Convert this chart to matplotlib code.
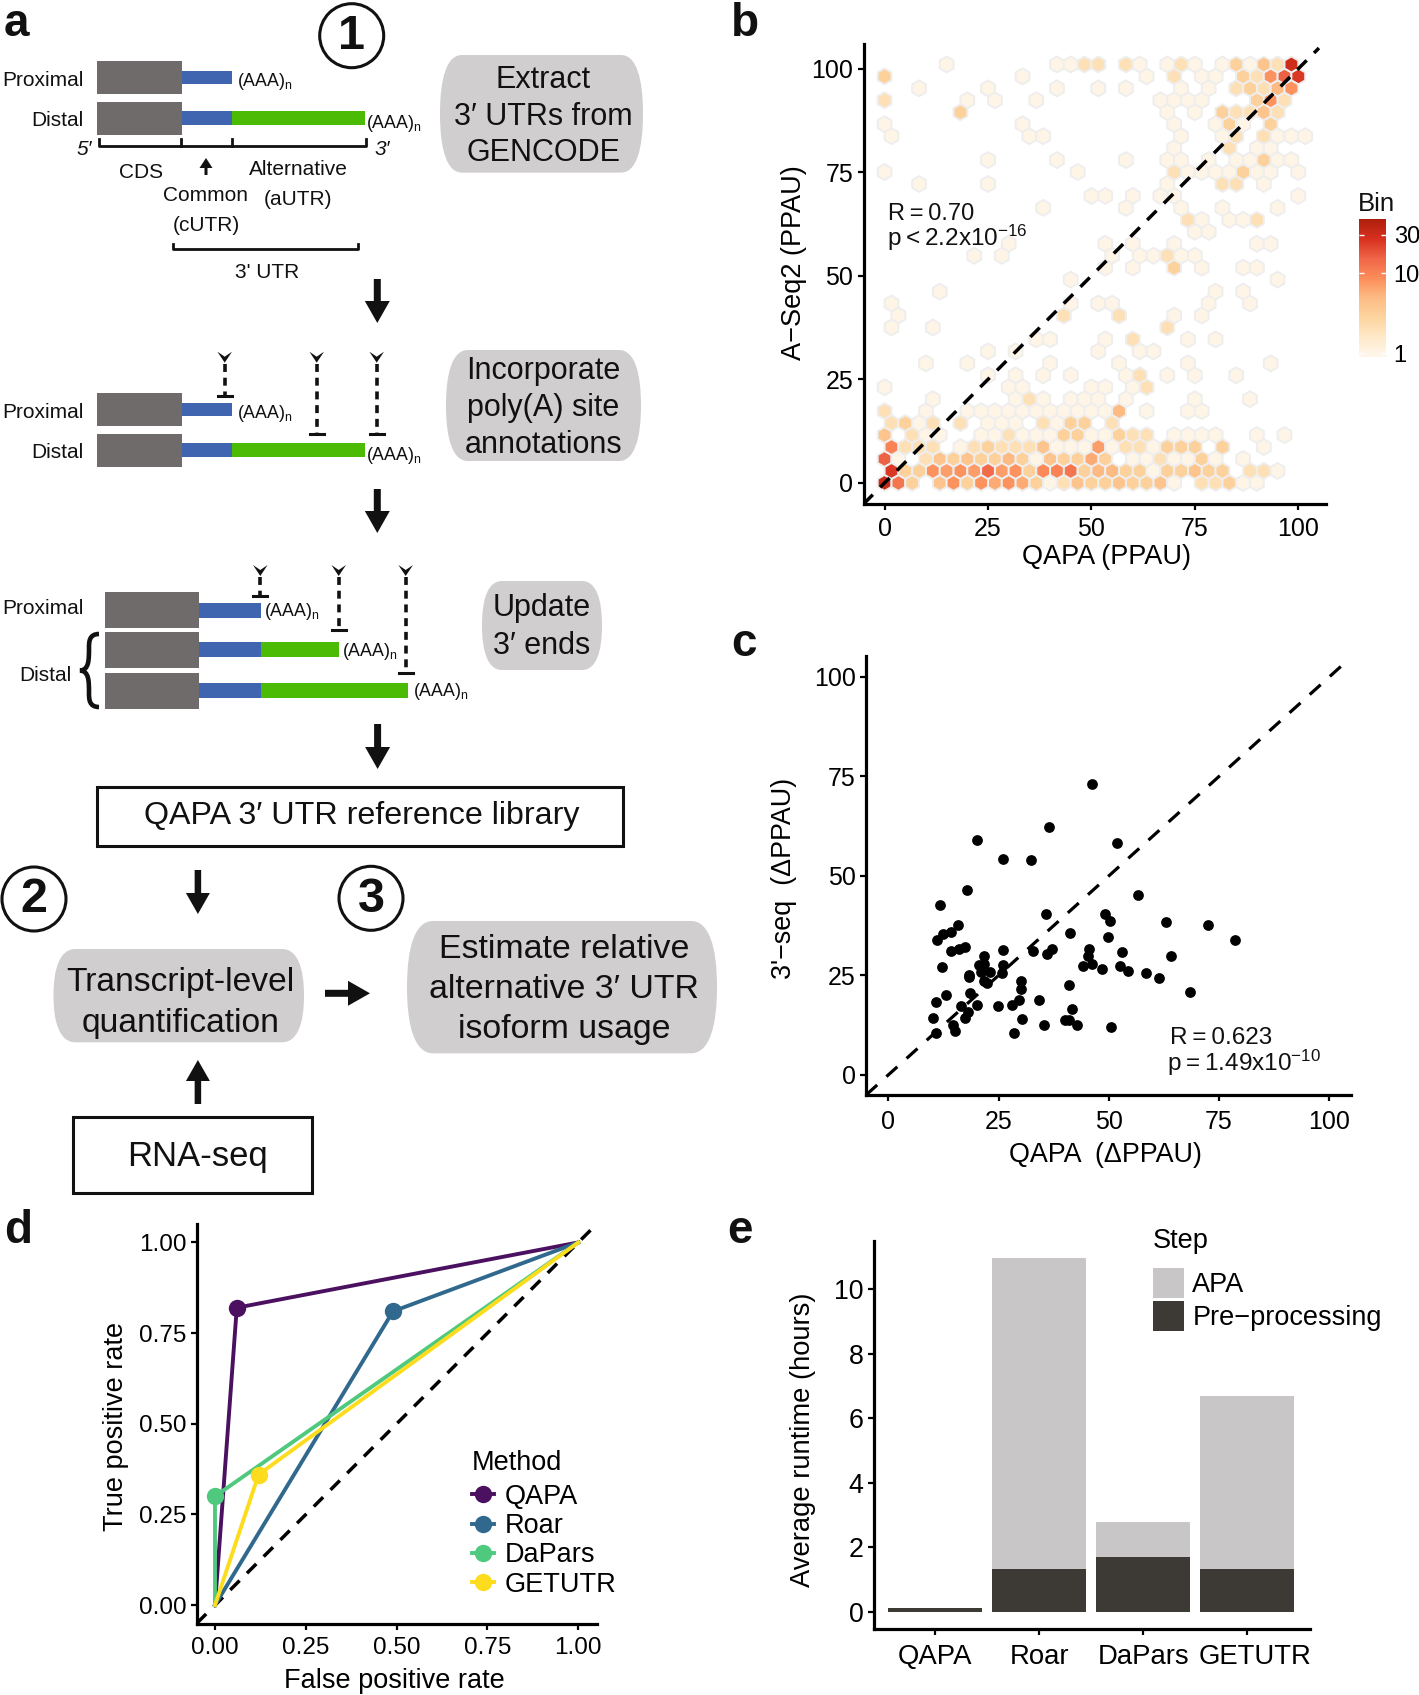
import numpy as np
import matplotlib
matplotlib.use("Agg")
import matplotlib.pyplot as plt
from matplotlib.colors import LinearSegmentedColormap, LogNorm
from matplotlib.lines import Line2D
from matplotlib.patches import Circle, FancyArrow, PathPatch, Patch, Polygon, Rectangle
from matplotlib.path import Path
from matplotlib.transforms import ScaledTranslation

plt.rcParams['font.family'] = ['Liberation Sans', 'DejaVu Sans']
plt.rcParams['mathtext.fontset'] = 'custom'
plt.rcParams['mathtext.rm'] = 'Liberation Sans'
plt.rcParams['mathtext.it'] = 'Liberation Sans:italic'
plt.rcParams['mathtext.bf'] = 'Liberation Sans:bold'
plt.rcParams['mathtext.default'] = 'regular'

W, H = 1419, 1695

# panel b: hex cells, one list per row of the hexagon grid (column index, count)
hex_col = [
    [0, 1, 2, 4, 5, 6, 7, 8, 9, 10, 11, 12, 13, 14, 15, 16, 17, 18, 19, 20, 21, 23, 24, 25, 26, 27],
    [0, 1, 2, 3, 4, 5, 6, 7, 8, 9, 10, 11, 12, 13, 14, 15, 16, 17, 18, 19, 20, 21, 22, 23, 24, 26, 27, 28],
    [0, 1, 3, 4, 5, 6, 7, 8, 9, 10, 11, 12, 13, 14, 15, 16, 18, 19, 20, 21, 22, 23, 24, 26],
    [0, 1, 2, 3, 5, 6, 7, 8, 9, 10, 11, 12, 13, 14, 15, 16, 17, 18, 19, 20, 21, 22, 24, 27],
    [0, 2, 3, 4, 7, 8, 9, 10, 11, 12, 13, 14, 15, 16, 17, 18, 19, 21, 22, 23, 24, 27, 29],
    [0, 1, 2, 3, 5, 7, 8, 9, 11, 12, 13, 14, 16],
    [0, 3, 6, 7, 8, 9, 10, 11, 12, 13, 14, 15, 16, 17, 19, 22, 23],
    [3, 9, 10, 11, 13, 14, 15, 17, 22, 26],
    [0, 9, 10, 15, 16, 18, 19],
    [7, 9, 11, 13, 17, 18, 20, 22, 25],
    [3, 6, 12, 17, 22, 28],
    [7, 9, 15, 18, 19],
    [11, 12, 16, 18, 22, 24],
    [0, 3, 20],
    [1, 13, 17, 21, 23],
    [0, 13, 15, 16, 23, 26],
    [4, 24, 26],
    [13, 28],
    [16, 18, 21, 23, 26, 27],
    [6, 8, 16, 18, 19, 20, 21, 22],
    [9, 16, 18, 21, 27, 28],
    [22, 23],
    [22, 23, 25, 26, 27],
    [11, 17, 21, 24, 28],
    [15, 16, 18, 20, 21, 30],
    [2, 7, 20, 24, 25, 27],
    [0, 14, 21, 22, 23, 24, 25, 26, 27, 28, 30],
    [7, 12, 17, 20, 21, 23, 25, 26, 27, 28, 29],
    [21, 25, 27, 28],
    [0, 10, 11, 21, 24, 25, 27, 28, 29, 30],
    [0, 10, 21, 24, 25, 26, 28],
    [5, 20, 22, 24, 25, 26, 27, 28],
    [0, 6, 8, 11, 20, 21, 22, 23, 27, 28, 29],
    [2, 7, 12, 15, 17, 21, 23, 25, 26, 27, 28, 29],
    [0, 10, 19, 21, 23, 24, 26, 27, 28, 29, 30],
    [4, 12, 13, 14, 15, 17, 18, 20, 21, 22, 24, 25, 26, 27, 28, 29],
]
hex_n = [
    [32, 12, 3, 4, 8, 3, 8, 6, 8, 6, 3, 1, 2, 4, 3, 3, 4, 3, 3, 4, 1, 2, 2, 3, 1, 1],
    [25, 3, 3, 8, 7, 8, 7, 14, 7, 8, 3, 9, 10, 12, 3, 5, 5, 3, 3, 1, 3, 3, 4, 3, 3, 2, 2, 1],
    [16, 1, 2, 4, 3, 4, 3, 3, 5, 3, 1, 4, 3, 3, 6, 3, 1, 1, 2, 1, 1, 3, 1, 1],
    [10, 2, 2, 2, 1, 2, 3, 2, 2, 2, 4, 1, 1, 1, 7, 1, 2, 2, 1, 3, 3, 3, 3, 1],
    [4, 2, 1, 1, 1, 1, 2, 1, 1, 1, 3, 3, 1, 1, 3, 2, 2, 1, 1, 1, 1, 1, 1],
    [2, 3, 1, 2, 2, 1, 1, 1, 2, 1, 3, 3, 2],
    [2, 1, 1, 1, 1, 1, 1, 1, 1, 1, 1, 1, 1, 5, 1, 1, 1],
    [1, 1, 2, 1, 1, 1, 1, 1, 1, 1],
    [1, 1, 1, 1, 1, 1, 2],
    [1, 1, 1, 1, 1, 2, 1, 1, 1],
    [1, 1, 1, 1, 1, 1],
    [1, 1, 1, 1, 1],
    [1, 1, 1, 2, 1, 1],
    [1, 1, 2],
    [1, 2, 2, 1, 1],
    [1, 1, 1, 1, 1, 1],
    [1, 1, 1],
    [1, 1],
    [1, 1, 3, 1, 1, 1],
    [1, 1, 1, 1, 1, 2, 1, 1],
    [1, 1, 1, 1, 1, 1],
    [1, 1],
    [2, 1, 1, 1, 2],
    [1, 1, 1, 1, 1],
    [1, 1, 1, 1, 1, 1],
    [1, 1, 1, 2, 2, 1],
    [1, 1, 2, 1, 1, 1, 1, 3, 1, 1, 1],
    [1, 1, 1, 1, 1, 1, 1, 1, 3, 1, 1],
    [1, 2, 1, 1],
    [1, 1, 1, 1, 1, 2, 2, 1, 1, 1],
    [1, 1, 1, 1, 3, 1, 3],
    [3, 1, 1, 3, 2, 2, 4, 2],
    [2, 1, 1, 1, 1, 1, 1, 1, 3, 8, 2],
    [1, 1, 1, 1, 1, 1, 1, 2, 3, 2, 5, 8],
    [3, 1, 1, 2, 1, 1, 3, 2, 8, 16, 25],
    [1, 1, 1, 2, 2, 2, 1, 1, 2, 1, 1, 3, 1, 4, 2, 30],
]
bin_ticks = [1, 10, 30]

# panel c
c_x = [46.2, 36.5, 20.1, 51.9, 26.0, 32.3, 17.8, 56.5, 11.7, 35.8, 49.1, 50.3, 63.0, 72.5, 15.9, 14.1,
       12.5, 11.0, 41.1, 49.7, 78.5, 17.4, 16.1, 14.3, 26.0, 37.1, 35.9, 32.8, 45.4, 53.0, 45.2, 64.2,
       21.7, 20.6, 21.7, 12.2, 26.0, 44.1, 46.2, 52.6, 48.5, 54.3, 58.5, 61.3, 21.0, 23.1, 25.7, 18.3,
       18.2, 21.7, 22.4, 30.1, 30.0, 40.9, 68.4, 18.5, 13.1, 10.8, 29.7, 34.1, 16.4, 20.1, 24.9, 28.0,
       18.1, 17.4, 10.2, 30.2, 41.7, 40.1, 41.0, 42.7, 35.3, 50.5, 14.7, 15.2, 28.6, 10.8]
c_y = [73.1, 62.3, 58.9, 58.2, 54.3, 54.0, 46.5, 45.3, 42.6, 40.3, 40.3, 38.7, 38.4, 37.7, 37.7, 35.8,
       35.3, 33.8, 35.7, 34.7, 34.0, 32.1, 31.6, 31.1, 31.3, 31.5, 30.4, 31.0, 31.7, 30.8, 29.8, 29.8,
       29.8, 27.7, 27.9, 27.2, 27.7, 27.3, 27.9, 27.4, 26.6, 26.0, 25.7, 24.4, 25.8, 25.8, 25.7, 25.1,
       24.5, 23.6, 23.2, 23.6, 21.6, 22.5, 20.8, 20.5, 20.1, 18.3, 18.9, 18.7, 17.4, 17.6, 17.4, 17.5,
       15.7, 14.4, 14.4, 14.1, 16.6, 13.9, 13.9, 12.5, 12.5, 12.1, 12.6, 11.1, 10.6, 10.4]

# panel d
methods = ['QAPA', 'Roar', 'DaPars', 'GETUTR']
method_colors = ['#4b1160', '#31688e', '#4fc97d', '#fddc1e']
roc_fpr = [0.06, 0.49, 0.0, 0.12]
roc_tpr = [0.82, 0.81, 0.30, 0.36]

# panel e
tools = ['QAPA', 'Roar', 'DaPars', 'GETUTR']
preprocessing = [0.12, 1.33, 1.70, 1.33]
apa = [0.01, 9.63, 1.09, 5.37]


def px_axes(left, top, right, bottom):
    return fig.add_axes([left / W, 1 - bottom / H, (right - left) / W, (bottom - top) / H])


def style_axes(ax, xlim, ylim, size, xpad=3):
    ax.set_xlim(xlim)
    ax.set_ylim(ylim)
    ax.spines['top'].set_visible(False)
    ax.spines['right'].set_visible(False)
    ax.spines['left'].set_linewidth(2.3)
    ax.spines['bottom'].set_linewidth(2.3)
    ax.tick_params(length=4.5, width=1.6, labelsize=size, pad=3)
    ax.tick_params(axis='x', pad=xpad)
    ax.patch.set_alpha(0)


def set_labels(ax, xlabel, xpos, ylabel, ypos, size):
    ax.set_xlabel(xlabel, fontsize=size, va='center')
    ax.set_ylabel(ylabel, fontsize=size, va='center')
    ax.xaxis.set_label_coords(xpos[0], xpos[1], transform=over.transData)
    ax.yaxis.set_label_coords(ypos[0], ypos[1], transform=over.transData)


def label(x, y, text, size=15, ha='center', **kw):
    # the reference text sits a little lower than matplotlib's centre
    over.text(x, y + size * 0.12, text, fontsize=size, ha=ha, va='center', color='#111111', **kw)


def transcript(y0, y1, x0, x1, by0, by1, bend, gend=None):
    over.add_patch(Rectangle((x0, y0), x1 - x0, y1 - y0, fc='#6f6b6b', ec='none'))
    over.add_patch(Rectangle((x1, by0), bend - x1, by1 - by0, fc='#3f64b0', ec='none'))
    if gend is not None:
        over.add_patch(Rectangle((bend, by0), gend - bend, by1 - by0, fc='#4cbb06', ec='none'))


def polya(x, y):
    over.text(x, y, '(AAA)$_{n}$', fontsize=12.8, ha='left', va='center', color='#111111')


def site(x, top, bar):
    over.add_patch(Polygon([(x - 7.3, top), (x, top + 5), (x + 7.3, top), (x, top + 11)], fc='#111111', ec='none'))
    over.plot([x, x], [top + 12, bar], color='#111111', lw=2.6, ls=(0, (2.2, 1.6)))
    over.plot([x - 7, x + 7], [bar, bar], color='#111111', lw=2.2)


def block_arrow(x0, y0, x1, y1, shaft=7, head=25, head_len=22):
    over.add_patch(FancyArrow(x0, y0, x1 - x0, y1 - y0, width=shaft, head_width=head, head_length=head_len,
                              length_includes_head=True, fc='#111111', ec='none'))


def grey_box(x0, y0, x1, y1, rx):
    h = y1 - y0
    mid = (y0 + y1) / 2
    verts = [(x0 + rx, y0), (x1 - rx, y0),
             (x1 - rx * 0.3, y0), (x1, y0 + h * 0.2), (x1, mid),
             (x1, y1 - h * 0.2), (x1 - rx * 0.3, y1), (x1 - rx, y1),
             (x0 + rx, y1),
             (x0 + rx * 0.3, y1), (x0, y1 - h * 0.2), (x0, mid),
             (x0, y0 + h * 0.2), (x0 + rx * 0.3, y0), (x0 + rx, y0)]
    codes = [Path.MOVETO, Path.LINETO] + [Path.CURVE4] * 6 + [Path.LINETO] + [Path.CURVE4] * 6
    over.add_patch(PathPatch(Path(verts, codes), fc='#d0cece', ec='none'))


def step_circle(x, y, text):
    over.add_patch(Circle((x, y), 32, fc='white', ec='#111111', lw=2.2))
    over.text(x, y + 1, text, fontsize=35, fontweight='bold', ha='center', va='center', color='#111111')


fig = plt.figure(figsize=(W / 100, H / 100), dpi=100, facecolor='white')

# overlay in image pixels, used for the schematic and for placing text
over = fig.add_axes([0, 0, 1, 1], zorder=0)
over.set_xlim(0, W)
over.set_ylim(H, 0)
over.axis('off')

for letter, x, y in [('a', 4, 36), ('b', 731, 36), ('c', 731, 656), ('d', 4, 1243), ('e', 727, 1243)]:
    over.text(x, y, letter, fontsize=33, fontweight='bold', ha='left', va='baseline', color='#111111')

# panel a, step 1
step_circle(351.7, 35.7, '1')
transcript(61.3, 94.3, 97, 182, 71.3, 84.3, 232.3)
transcript(102, 135, 97, 182, 111.3, 125, 232.3, 365)
label(83.5, 79, 'Proximal', ha='right')
label(83.5, 119, 'Distal', ha='right')
polya(237, 82)
polya(365.5, 124)
over.plot([99, 99, 365.7, 365.7], [139.3, 146, 146, 139.3], color='#111111', lw=2)
over.plot([181, 181], [139.3, 146], color='#111111', lw=2)
over.plot([232, 232], [139.3, 146], color='#111111', lw=2)
label(91.7, 148, "5\u2032", ha='right', style='italic')
label(375, 148, "3\u2032", ha='left', style='italic')
label(141, 171, 'CDS')
block_arrow(206, 175, 206, 158, shaft=3, head=13, head_len=10)
label(206, 194, 'Common')
label(206, 224, '(cUTR)')
label(298, 168, 'Alternative')
label(298, 198, '(aUTR)')
over.plot([172.7, 172.7, 358, 358], [244, 249, 249, 244], color='#111111', lw=2)
label(267, 271, "3' UTR")

grey_box(440, 55, 643, 172.6, 22)
for text, y in [('Extract', 77.7), ("3\u2032 UTRs from", 114), ('GENCODE', 150)]:
    label(543, y, text, size=22)
block_arrow(377.3, 279, 377.3, 323)

# step 1, annotations
transcript(393.3, 426, 97, 182, 403.3, 416.3, 232.3)
transcript(434, 466.7, 97, 182, 443.3, 456.7, 232.3, 365)
label(83.5, 411, 'Proximal', ha='right')
label(83.5, 451, 'Distal', ha='right')
polya(237, 414)
polya(365.5, 456)
site(224.7, 351.7, 395.7)
site(316.7, 351.7, 433.7)
site(376.7, 351.7, 434.3)
grey_box(446, 350, 641, 461, 22)
for text, y in [('Incorporate', 368), ('poly(A) site', 405), ('annotations', 442)]:
    label(543.5, y, text, size=22)
block_arrow(377.3, 489, 377.3, 533)

# step 1, updated ends
transcript(592, 628.3, 104.7, 199, 603, 618, 260.7)
transcript(632.3, 668.3, 104.7, 199, 642, 657, 260.7, 338.7)
transcript(672.7, 708.7, 104.7, 199, 683, 698, 260.7, 407.7)
label(83.5, 606.7, 'Proximal', ha='right')
label(71.7, 673.3, 'Distal', ha='right')
polya(264.5, 611.5)
polya(342, 652)
polya(413, 692)
site(260.3, 565, 596)
site(338.7, 565, 630.3)
site(405.7, 565, 672.7)
brace = Path([(99, 634), (89, 634), (89, 642), (89, 648), (89, 660), (89, 670), (80, 670.5),
              (89, 671), (89, 681), (89, 693), (89, 699), (89, 707), (99, 707)],
             [Path.MOVETO, Path.CURVE4, Path.CURVE4, Path.CURVE4, Path.CURVE4, Path.CURVE4, Path.CURVE4,
              Path.CURVE4, Path.CURVE4, Path.CURVE4, Path.CURVE4, Path.CURVE4, Path.CURVE4])
over.add_patch(PathPatch(brace, fc='none', ec='#111111', lw=3.3))
grey_box(482, 581, 602, 670, 20)
label(542, 605.5, 'Update', size=22)
label(542, 643, "3\u2032 ends", size=22)
block_arrow(377.6, 724, 377.6, 769)

# library box and steps 2, 3
over.add_patch(Rectangle((97, 787.3), 526, 58.7, fc='white', ec='#111111', lw=2.2))
label(361.5, 813, "QAPA 3\u2032 UTR reference library", size=23.2)
step_circle(34, 899, '2')
step_circle(371, 898.3, '3')
block_arrow(197.9, 870, 197.9, 914, shaft=6.5, head=24, head_len=21)
grey_box(53.5, 949, 304, 1042.3, 22)
label(180.6, 980, 'Transcript-level', size=24.2)
label(180.6, 1020.7, 'quantification', size=24.2)
block_arrow(325, 993.3, 370, 993.3, shaft=7, head=25, head_len=22)
grey_box(407, 921, 717, 1053.3, 26)
for text, y in [('Estimate relative', 946.7), ("alternative 3\u2032 UTR", 986.7), ('isoform usage', 1027)]:
    label(564, y, text, size=24.4)
block_arrow(197.9, 1104, 197.9, 1060, shaft=6.5, head=24, head_len=21)
over.add_patch(Rectangle((73, 1117.3), 239, 76, fc='white', ec='#111111', lw=2.2))
label(197.9, 1154, 'RNA-seq', size=24.9)

# panel b
ax_b = px_axes(863.5, 44.3, 1326, 504.3)
cell_w = 100 / 30
row_h = cell_w * np.sqrt(3) / 2
hex_x, hex_y, hex_c = [], [], []
for row, (cols, counts) in enumerate(zip(hex_col, hex_n)):
    for col, count in zip(cols, counts):
        hex_x.append(col * cell_w + (row % 2) * cell_w / 2)
        hex_y.append(row * row_h)
        hex_c.append(count)
bin_cmap = LinearSegmentedColormap.from_list(
    'bin', ['#fff7ec', '#fee8c8', '#fdd49e', '#fdbb84', '#fc8d59', '#ef6548', '#d7301f', '#ad1f0c'])
hb = ax_b.hexbin(hex_x, hex_y, C=hex_c, reduce_C_function=np.sum, gridsize=(32, 18),
                 extent=(0, 32 * cell_w, 0, 36 * row_h), cmap=bin_cmap, norm=LogNorm(0.9, 47.3),
                 edgecolors='#eeeeee', linewidths=1.4)
ax_b.plot([-5.1, 105], [-5.1, 105], color='black', lw=2.5, ls=(0, (3.8, 3)), zorder=4)
style_axes(ax_b, (-5.1, 106.7), (-5.17, 105.9), 18, xpad=5)
ax_b.set_xticks([0, 25, 50, 75, 100])
ax_b.set_yticks([0, 25, 50, 75, 100])
set_labels(ax_b, 'QAPA (PPAU)', (1106, 557.5), 'A\u2212Seq2 (PPAU)', (794, 262.6), 19.5)
label(888, 212, 'R\u2009=\u20090.70', size=17, ha='left')
label(887, 236, 'p\u2009<\u20092.2x10$^{-16}$', size=17.5, ha='left')
label(1358, 202, 'Bin', size=18.5, ha='left')
cax = px_axes(1358.7, 219, 1386, 356.8)
cbar = fig.colorbar(hb, cax=cax, ticks=bin_ticks)
cbar.ax.set_yticklabels([str(t) for t in bin_ticks])
cbar.minorticks_off()
cbar.outline.set_visible(False)
cax.tick_params(axis='y', length=3.5, width=1, color='white', direction='in', left=True, right=True,
                labelright=True, labelsize=17, pad=5.5)

# panel c
ax_c = px_axes(866, 656.5, 1351, 1095.2)
ax_c.plot([-5, 103], [-5, 103], color='black', lw=2.3, ls=(0, (4.6, 3.9)), zorder=1)
ax_c.scatter(c_x, c_y, s=60, color='black', linewidths=0, zorder=2)
style_axes(ax_c, (-5.06, 104.9), (-5.1, 105.1), 18, xpad=6)
ax_c.set_xticks([0, 25, 50, 75, 100])
ax_c.set_yticks([0, 25, 50, 75, 100])
set_labels(ax_c, 'QAPA  (\u0394PPAU)', (1105, 1155), "3'\u2212seq  (\u0394PPAU)", (784, 878), 19.4)
label(1170, 1036, 'R\u2009=\u20090.623', size=17.5, ha='left')
label(1167, 1061, 'p\u2009=\u20091.49x10$^{-10}$', size=17.5, ha='left')

# panel d
ax_d = px_axes(197, 1224.3, 597, 1624)
ax_d.plot([-0.05, 1.05], [-0.05, 1.05], color='black', lw=2.5, ls=(0, (3.8, 3)), zorder=1)
handles = []
for fpr, tpr, color, name in zip(roc_fpr, roc_tpr, method_colors, methods):
    ax_d.plot([0, fpr, 1], [0, tpr, 1], color=color, lw=2.8, zorder=2)
    ax_d.plot([fpr], [tpr], 'o', color=color, ms=12.5, mew=0, zorder=3)
    handles.append(Line2D([0], [0], color=color, lw=2.8, marker='o', ms=12.5, mew=0, label=name))
style_axes(ax_d, (-0.0495, 1.0515), (-0.052, 1.05), 17.5, xpad=4.5)
ax_d.set_xticks([0, 0.25, 0.5, 0.75, 1])
ax_d.set_xticklabels(['0.00', '0.25', '0.50', '0.75', '1.00'])
ax_d.set_yticks([0, 0.25, 0.5, 0.75, 1])
ax_d.set_yticklabels(['0.00', '0.25', '0.50', '0.75', '1.00'])
set_labels(ax_d, 'False positive rate', (394, 1681), 'True positive rate', (116, 1426.7), 19.5)
leg_d = ax_d.legend(handles=handles, title='Method', loc='upper left', bbox_to_anchor=(472, 1450),
                    bbox_transform=over.transData, frameon=False, borderpad=0, borderaxespad=0, alignment='left',
                    fontsize=19.5, title_fontsize=19.5, handlelength=0.8, handletextpad=0.4, labelspacing=0.125)
leg_d._legend_box.sep = 5.5

# panel e
ax_e = px_axes(873.8, 1240.7, 1309.8, 1629.3)
ax_e.bar(tools, preprocessing, width=0.905, color='#3d3a36', label='Pre\u2212processing')
ax_e.bar(tools, apa, width=0.905, bottom=preprocessing, color='#c8c6c6', label='APA')
style_axes(ax_e, (-0.59, 3.6), (-0.536, 11.5), 19.3, xpad=6)
ax_e.set_yticks([0, 2, 4, 6, 8, 10])
ax_e.tick_params(axis='x', labelsize=19.8)
ticklabels = ax_e.get_xticklabels()
ticklabels[-1].set_transform(ticklabels[-1].get_transform() + ScaledTranslation(8 / 100, 0, fig.dpi_scale_trans))
ax_e.set_ylabel('Average runtime (hours)', fontsize=19.7, va='center')
ax_e.yaxis.set_label_coords(803.5, 1440, transform=over.transData)
legend_handles = [Patch(fc='#c8c6c6', label='APA'), Patch(fc='#3d3a36', label='Pre\u2212processing')]
leg_e = ax_e.legend(handles=legend_handles, title='Step', loc='upper left', bbox_to_anchor=(1153, 1228),
                    bbox_transform=over.transData, frameon=False, borderpad=0, borderaxespad=0, alignment='left',
                    fontsize=19.5, title_fontsize=19.5, handlelength=1.15, handleheight=1.327, handletextpad=0.3,
                    labelspacing=0.1)
leg_e._legend_box.sep = 10

fig.savefig('out.png', dpi=100)
